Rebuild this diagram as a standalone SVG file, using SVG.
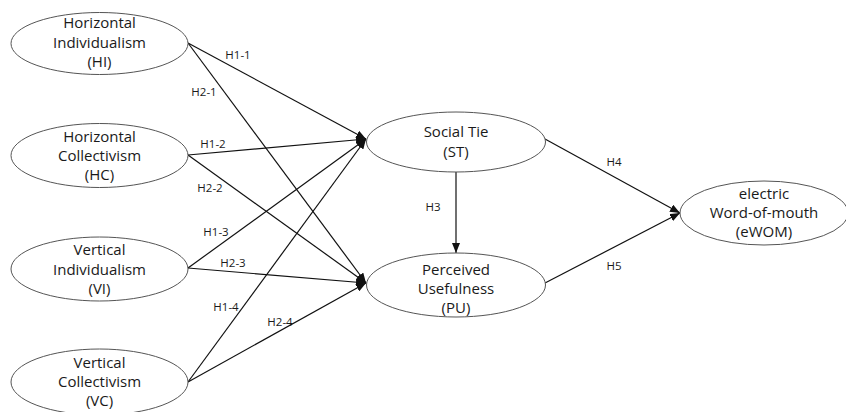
<svg xmlns="http://www.w3.org/2000/svg" width="846" height="412" viewBox="0 0 846 412">
<defs>
<marker id="arr" markerWidth="10" markerHeight="8" refX="10" refY="4" orient="auto" markerUnits="userSpaceOnUse">
<path d="M0,0 L10,4 L0,8 z" fill="#111"/>
</marker>
<style>
.node ellipse{fill:#fff;stroke:#555;stroke-width:1}
.node text{font-family:"Open Sans","Noto Sans",sans-serif;font-size:15px;fill:#1a1a1a;text-anchor:middle}
.edges line{stroke:#111;stroke-width:1.2;marker-end:url(#arr)}
.lbl{font-family:"Open Sans","Noto Sans",sans-serif;font-size:11.5px;fill:#1a1a1a;text-anchor:middle}
</style>
</defs>
<rect width="846" height="412" fill="#fff"/>
<g class="edges">
<line x1="188" y1="43" x2="366" y2="139"/>
<line x1="188" y1="43" x2="366" y2="283"/>
<line x1="188" y1="155" x2="366" y2="139"/>
<line x1="188" y1="155" x2="366" y2="283"/>
<line x1="188" y1="268" x2="366" y2="139"/>
<line x1="188" y1="268" x2="366" y2="283"/>
<line x1="188" y1="382" x2="366" y2="139"/>
<line x1="188" y1="382" x2="366" y2="283"/>
<line x1="545" y1="139" x2="680" y2="213"/>
<line x1="545" y1="283" x2="680" y2="213"/>
<line x1="456" y1="172" x2="456" y2="253"/>
<text class="lbl" x="238" y="59">H1-1</text>
<text class="lbl" x="204" y="96">H2-1</text>
<text class="lbl" x="213" y="148">H1-2</text>
<text class="lbl" x="210" y="192">H2-2</text>
<text class="lbl" x="216" y="236">H1-3</text>
<text class="lbl" x="233" y="267">H2-3</text>
<text class="lbl" x="226" y="311">H1-4</text>
<text class="lbl" x="280" y="326">H2-4</text>
<text class="lbl" x="433" y="211">H3</text>
<text class="lbl" x="614" y="166">H4</text>
<text class="lbl" x="614" y="270">H5</text>
</g>
<g id="HI" class="node">
<ellipse cx="99.5" cy="43.5" rx="88.5" ry="31"/>
<text x="99.5" y="28">Horizontal</text>
<text x="99.5" y="48">Individualism</text>
<text x="99.5" y="67">(HI)</text>
</g>
<g id="HC" class="node">
<ellipse cx="99.5" cy="155.5" rx="88.5" ry="32"/>
<text x="99.5" y="142">Horizontal</text>
<text x="99.5" y="161">Collectivism</text>
<text x="99.5" y="180">(HC)</text>
</g>
<g id="VI" class="node">
<ellipse cx="99.5" cy="269" rx="88.5" ry="32"/>
<text x="99.5" y="255">Vertical</text>
<text x="99.5" y="275">Individualism</text>
<text x="99.5" y="294">(VI)</text>
</g>
<g id="VC" class="node">
<ellipse cx="99.5" cy="382" rx="88.5" ry="33"/>
<text x="99.5" y="368">Vertical</text>
<text x="99.5" y="387">Collectivism</text>
<text x="99.5" y="406">(VC)</text>
</g>
<g id="ST" class="node">
<ellipse cx="456" cy="142" rx="89.5" ry="30"/>
<text x="456" y="137">Social Tie</text>
<text x="456" y="157">(ST)</text>
</g>
<g id="PU" class="node">
<ellipse cx="456" cy="285" rx="89.5" ry="32"/>
<text x="456" y="275">Perceived</text>
<text x="456" y="294">Usefulness</text>
<text x="456" y="313">(PU)</text>
</g>
<g id="eWOM" class="node">
<ellipse cx="764" cy="213" rx="84" ry="32"/>
<text x="764" y="199">electric</text>
<text x="764" y="218">Word-of-mouth</text>
<text x="764" y="237">(eWOM)</text>
</g>
</svg>
